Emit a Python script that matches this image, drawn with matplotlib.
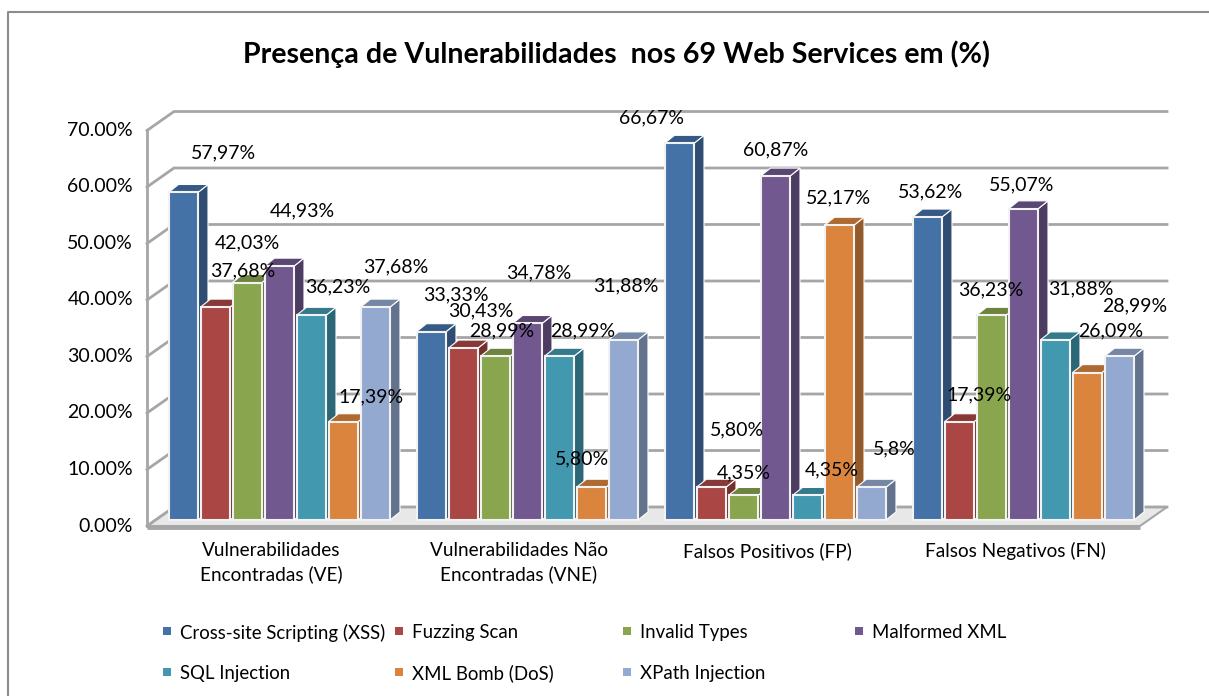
import matplotlib
matplotlib.use("Agg")
import matplotlib.pyplot as plt
from matplotlib.patches import Polygon, Rectangle
from matplotlib.colors import to_rgb

plt.rcParams["font.family"] = ["Lato", "DejaVu Sans"]

title = "Presença de Vulnerabilidades  nos 69 Web Services em (%)"
categories = ["Vulnerabilidades\nEncontradas (VE)", "Vulnerabilidades Não\nEncontradas (VNE)",
              "Falsos Positivos (FP)", "Falsos Negativos (FN)"]
series = ["Cross-site Scripting (XSS)", "Fuzzing Scan", "Invalid Types", "Malformed XML",
          "SQL Injection", "XML Bomb (DoS)", "XPath Injection"]
xss = [57.97, 33.33, 66.67, 53.62]
fuzzing = [37.68, 30.43, 5.80, 17.39]
invalid = [42.03, 28.99, 4.35, 36.23]
malformed = [44.93, 34.78, 60.87, 55.07]
sql = [36.23, 28.99, 4.35, 31.88]
bomb = [17.39, 5.80, 52.17, 26.09]
xpath = [37.68, 31.88, 5.80, 28.99]
values = [xss, fuzzing, invalid, malformed, sql, bomb, xpath]
yticks = [0, 10, 20, 30, 40, 50, 60, 70]
colors = ["#4471A6", "#AA4643", "#89A54E", "#71588F", "#4198AF", "#DB843D", "#93A9CF"]

# label nudges in pixels from the bar top, [series][category]
nudges = [
    [(41, 40), (25, 37), (-27, 25), (4, 25)],
    [(28, 36), (18, 37), (26, 57), (21, 27)],
    [(1, 40), (7, 25), (1, 23), (0, 25)],
    [(24, 55), (12, 51), (1, 26), (-1, 24)],
    [(27, 28), (24, 25), (25, 26), (26, 51)],
    [(29, 25), (-9, 28), (0, 27), (24, 42)],
    [(21, 40), (3, 54), (24, 38), (16, 50)],
]

W, H = 1209, 696
Y0_PX, PX_PER_UNIT = 520, 5.65
X0_PX, BAR_PX, GROUP_PX = 168, 32, 248

fig = plt.figure(figsize=(W / 100, H / 100), dpi=100)
ax = fig.add_axes([0, 0, 1, 1])
ax.set_xlim(-X0_PX / BAR_PX, (W - X0_PX) / BAR_PX)
ax.set_ylim(-(H - Y0_PX) / PX_PER_UNIT, Y0_PX / PX_PER_UNIT)
ax.axis("off")


def dx(px):
    return px / BAR_PX


def dy(px):
    return px / PX_PER_UNIT


def shade(c, f):
    return tuple(v * f for v in to_rgb(c))


# outer frame, only left and top are inside the picture
ax.plot([dx(8 - X0_PX), dx(8 - X0_PX), dx(W - X0_PX)],
        [dy(Y0_PX - H), dy(Y0_PX - 12), dy(Y0_PX - 12)], color="#8c8c8c", lw=1.5, zorder=0)

# walls and floor
front_x, back_x, end_x = dx(147 - X0_PX), dx(174 - X0_PX), dx(1140 - X0_PX)
far_x = dx(1167 - X0_PX)
front_y, back_y = dy(-6), dy(13)
ax.add_patch(Polygon([(front_x, front_y), (back_x, back_y), (far_x, back_y), (end_x, front_y)],
                     closed=True, fc="#e8e8e8", ec="#a6a6a6", lw=1.5, zorder=1))
ax.plot([front_x, end_x], [front_y - dy(1), front_y - dy(1)], color="#a6a6a6", lw=3.5,
        solid_capstyle="butt", zorder=1)
for t in yticks:
    ax.plot([front_x, back_x, far_x], [front_y + t, back_y + t, back_y + t], color="#a6a6a6", lw=2,
            zorder=1)
    ax.text(dx(133 - X0_PX), front_y + t, f"{t:.2f}%", ha="right", va="center", fontsize=14,
            color="black")
ax.plot([front_x, front_x], [front_y, front_y + yticks[-1]], color="#a6a6a6", lw=2, zorder=1)

# bars, left to right so the next one covers the side of the previous
depth_x, depth_y = dx(10), dy(8)
z = 2
for c in range(len(categories)):
    start = c * GROUP_PX / BAR_PX
    for s in range(len(series)):
        v = values[s][c]
        x0 = start + s + dx(0.5)
        x1 = start + s + dx(30)
        col = colors[s]
        ax.add_patch(Polygon([(x1, 0), (x1 + depth_x, depth_y), (x1 + depth_x, v + depth_y), (x1, v)],
                             closed=True, fc=shade(col, 0.68), ec="white", lw=0.8, zorder=z))
        ax.add_patch(Polygon([(x0, v), (x0 + depth_x, v + depth_y), (x1 + depth_x, v + depth_y), (x1, v)],
                             closed=True, fc=shade(col, 0.8), ec="white", lw=0.8, zorder=z))
        ax.add_patch(Rectangle((x0, 0), x1 - x0, v, fc=col, ec="#f2f2f2", lw=1.5, zorder=z))
        z += 1

# data labels on top of everything
for s in range(len(series)):
    for c in range(len(categories)):
        v = values[s][c]
        txt = f"{v:.2f}".replace(".", ",") + "%"
        if s == 6 and c == 2:
            txt = "5,8%"
        ax.annotate(txt, (c * GROUP_PX / BAR_PX + s + dx(14.5), v), xytext=nudges[s][c],
                    textcoords="offset pixels", ha="center", va="center", fontsize=14,
                    color="black", zorder=100)

# category labels
for c, name in enumerate(categories):
    ax.text(c * GROUP_PX / BAR_PX + dx(103), dy(-22), name, ha="center", va="top", fontsize=13.7,
            linespacing=1.4, color="black")

ax.text(dx(616 - X0_PX), dy(Y0_PX - 54), title, ha="center", va="center", fontsize=20.6,
        fontweight="bold", color="black")

# legend, two rows with uneven columns like the original
legend_cols = [163, 395, 623, 855]
legend_rows = [631, 672]
for i, name in enumerate(series):
    lx = legend_cols[i % 4]
    ly = legend_rows[i // 4]
    ax.add_patch(Rectangle((dx(lx - X0_PX), dy(Y0_PX - ly - 4)), dx(8), dy(8), fc=colors[i], ec="none"))
    ax.text(dx(lx + 17 - X0_PX), dy(Y0_PX - ly), name, ha="left", va="center_baseline", fontsize=13.4,
            color="black")

fig.savefig("out.png", dpi=100)
